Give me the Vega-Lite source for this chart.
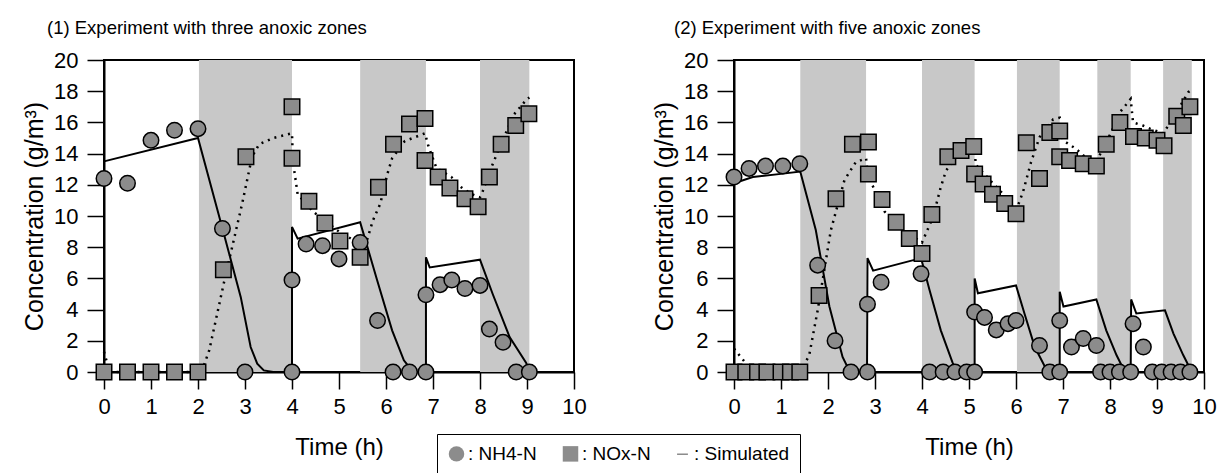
{
  "$schema": "https://vega.github.io/schema/vega-lite/v6.json",
  "padding": {"left": 21, "top": 17, "right": 5, "bottom": 0},
  "spacing": 160,
  "bounds": "flush",
  "datasets": {
    "zones": [
      {"p": 1, "a": 2.02, "b": 4.0},
      {"p": 1, "a": 5.45, "b": 6.85},
      {"p": 1, "a": 8.0, "b": 9.05},
      {"p": 2, "a": 1.41, "b": 2.81},
      {"p": 2, "a": 4.0, "b": 5.12},
      {"p": 2, "a": 6.02, "b": 6.93},
      {"p": 2, "a": 7.73, "b": 8.44},
      {"p": 2, "a": 9.13, "b": 9.74}
    ],
    "obs": [
      {"p": 1, "s": "NH4-N", "t": 0, "v": 12.4},
      {"p": 1, "s": "NH4-N", "t": 0.5, "v": 12.1},
      {"p": 1, "s": "NH4-N", "t": 1.0, "v": 14.85},
      {"p": 1, "s": "NH4-N", "t": 1.5, "v": 15.5},
      {"p": 1, "s": "NH4-N", "t": 2.0, "v": 15.6},
      {"p": 1, "s": "NH4-N", "t": 2.52, "v": 9.2},
      {"p": 1, "s": "NH4-N", "t": 3.0, "v": 0},
      {"p": 1, "s": "NH4-N", "t": 4.0, "v": 0},
      {"p": 1, "s": "NH4-N", "t": 4.0, "v": 5.9},
      {"p": 1, "s": "NH4-N", "t": 4.3, "v": 8.2},
      {"p": 1, "s": "NH4-N", "t": 4.65, "v": 8.1},
      {"p": 1, "s": "NH4-N", "t": 5.0, "v": 7.25},
      {"p": 1, "s": "NH4-N", "t": 5.45, "v": 8.3},
      {"p": 1, "s": "NH4-N", "t": 5.82, "v": 3.3},
      {"p": 1, "s": "NH4-N", "t": 6.15, "v": 0},
      {"p": 1, "s": "NH4-N", "t": 6.5, "v": 0},
      {"p": 1, "s": "NH4-N", "t": 6.85, "v": 0},
      {"p": 1, "s": "NH4-N", "t": 6.85, "v": 4.95},
      {"p": 1, "s": "NH4-N", "t": 7.15, "v": 5.6},
      {"p": 1, "s": "NH4-N", "t": 7.4, "v": 5.9},
      {"p": 1, "s": "NH4-N", "t": 7.68, "v": 5.35},
      {"p": 1, "s": "NH4-N", "t": 8.0, "v": 5.55},
      {"p": 1, "s": "NH4-N", "t": 8.2, "v": 2.75},
      {"p": 1, "s": "NH4-N", "t": 8.49, "v": 1.9},
      {"p": 1, "s": "NH4-N", "t": 8.77, "v": 0},
      {"p": 1, "s": "NH4-N", "t": 9.05, "v": 0},
      {"p": 1, "s": "NOx-N", "t": 0, "v": 0},
      {"p": 1, "s": "NOx-N", "t": 0.5, "v": 0},
      {"p": 1, "s": "NOx-N", "t": 1.0, "v": 0},
      {"p": 1, "s": "NOx-N", "t": 1.5, "v": 0},
      {"p": 1, "s": "NOx-N", "t": 2.0, "v": 0},
      {"p": 1, "s": "NOx-N", "t": 2.54, "v": 6.55},
      {"p": 1, "s": "NOx-N", "t": 3.02, "v": 13.8},
      {"p": 1, "s": "NOx-N", "t": 4.0, "v": 17.0},
      {"p": 1, "s": "NOx-N", "t": 4.0, "v": 13.7},
      {"p": 1, "s": "NOx-N", "t": 4.36, "v": 10.95},
      {"p": 1, "s": "NOx-N", "t": 4.7, "v": 9.55},
      {"p": 1, "s": "NOx-N", "t": 5.02, "v": 8.4},
      {"p": 1, "s": "NOx-N", "t": 5.45, "v": 7.35},
      {"p": 1, "s": "NOx-N", "t": 5.84, "v": 11.85},
      {"p": 1, "s": "NOx-N", "t": 6.16, "v": 14.6},
      {"p": 1, "s": "NOx-N", "t": 6.5, "v": 15.9},
      {"p": 1, "s": "NOx-N", "t": 6.83, "v": 16.25},
      {"p": 1, "s": "NOx-N", "t": 6.83, "v": 13.55},
      {"p": 1, "s": "NOx-N", "t": 7.11, "v": 12.5},
      {"p": 1, "s": "NOx-N", "t": 7.36, "v": 11.8},
      {"p": 1, "s": "NOx-N", "t": 7.68, "v": 11.1},
      {"p": 1, "s": "NOx-N", "t": 7.96, "v": 10.6},
      {"p": 1, "s": "NOx-N", "t": 8.2, "v": 12.5},
      {"p": 1, "s": "NOx-N", "t": 8.45, "v": 14.6},
      {"p": 1, "s": "NOx-N", "t": 8.76, "v": 15.8},
      {"p": 1, "s": "NOx-N", "t": 9.04, "v": 16.55},
      {"p": 2, "s": "NH4-N", "t": 0, "v": 12.5},
      {"p": 2, "s": "NH4-N", "t": 0.32, "v": 13.05},
      {"p": 2, "s": "NH4-N", "t": 0.67, "v": 13.2},
      {"p": 2, "s": "NH4-N", "t": 1.04, "v": 13.2},
      {"p": 2, "s": "NH4-N", "t": 1.4, "v": 13.35},
      {"p": 2, "s": "NH4-N", "t": 1.78, "v": 6.85},
      {"p": 2, "s": "NH4-N", "t": 2.15, "v": 2.0},
      {"p": 2, "s": "NH4-N", "t": 2.49, "v": 0},
      {"p": 2, "s": "NH4-N", "t": 2.84, "v": 0},
      {"p": 2, "s": "NH4-N", "t": 2.84, "v": 4.35},
      {"p": 2, "s": "NH4-N", "t": 3.13, "v": 5.75},
      {"p": 2, "s": "NH4-N", "t": 3.98, "v": 6.3},
      {"p": 2, "s": "NH4-N", "t": 4.16, "v": 0},
      {"p": 2, "s": "NH4-N", "t": 4.45, "v": 0},
      {"p": 2, "s": "NH4-N", "t": 4.7, "v": 0},
      {"p": 2, "s": "NH4-N", "t": 4.95, "v": 0},
      {"p": 2, "s": "NH4-N", "t": 5.12, "v": 0},
      {"p": 2, "s": "NH4-N", "t": 5.12, "v": 3.85},
      {"p": 2, "s": "NH4-N", "t": 5.33, "v": 3.5},
      {"p": 2, "s": "NH4-N", "t": 5.58, "v": 2.7},
      {"p": 2, "s": "NH4-N", "t": 5.83, "v": 3.1},
      {"p": 2, "s": "NH4-N", "t": 6.0, "v": 3.3},
      {"p": 2, "s": "NH4-N", "t": 6.5, "v": 1.7},
      {"p": 2, "s": "NH4-N", "t": 6.72, "v": 0},
      {"p": 2, "s": "NH4-N", "t": 6.93, "v": 0},
      {"p": 2, "s": "NH4-N", "t": 6.93, "v": 3.3},
      {"p": 2, "s": "NH4-N", "t": 7.18, "v": 1.6},
      {"p": 2, "s": "NH4-N", "t": 7.43, "v": 2.15},
      {"p": 2, "s": "NH4-N", "t": 7.71, "v": 1.7},
      {"p": 2, "s": "NH4-N", "t": 7.8, "v": 0},
      {"p": 2, "s": "NH4-N", "t": 8.0, "v": 0},
      {"p": 2, "s": "NH4-N", "t": 8.2, "v": 0},
      {"p": 2, "s": "NH4-N", "t": 8.44, "v": 0},
      {"p": 2, "s": "NH4-N", "t": 8.49, "v": 3.1},
      {"p": 2, "s": "NH4-N", "t": 8.71, "v": 1.6},
      {"p": 2, "s": "NH4-N", "t": 8.9, "v": 0},
      {"p": 2, "s": "NH4-N", "t": 9.1, "v": 0},
      {"p": 2, "s": "NH4-N", "t": 9.3, "v": 0},
      {"p": 2, "s": "NH4-N", "t": 9.5, "v": 0},
      {"p": 2, "s": "NH4-N", "t": 9.7, "v": 0},
      {"p": 2, "s": "NOx-N", "t": 0, "v": 0},
      {"p": 2, "s": "NOx-N", "t": 0.25, "v": 0},
      {"p": 2, "s": "NOx-N", "t": 0.5, "v": 0},
      {"p": 2, "s": "NOx-N", "t": 0.7, "v": 0},
      {"p": 2, "s": "NOx-N", "t": 1.0, "v": 0},
      {"p": 2, "s": "NOx-N", "t": 1.2, "v": 0},
      {"p": 2, "s": "NOx-N", "t": 1.4, "v": 0},
      {"p": 2, "s": "NOx-N", "t": 1.81, "v": 4.9},
      {"p": 2, "s": "NOx-N", "t": 2.17, "v": 11.1},
      {"p": 2, "s": "NOx-N", "t": 2.52, "v": 14.6},
      {"p": 2, "s": "NOx-N", "t": 2.86, "v": 14.75},
      {"p": 2, "s": "NOx-N", "t": 2.86, "v": 12.7},
      {"p": 2, "s": "NOx-N", "t": 3.15, "v": 11.05},
      {"p": 2, "s": "NOx-N", "t": 3.45, "v": 9.6},
      {"p": 2, "s": "NOx-N", "t": 3.73, "v": 8.55},
      {"p": 2, "s": "NOx-N", "t": 4.0, "v": 7.6},
      {"p": 2, "s": "NOx-N", "t": 4.21, "v": 10.1},
      {"p": 2, "s": "NOx-N", "t": 4.55, "v": 13.8},
      {"p": 2, "s": "NOx-N", "t": 4.83, "v": 14.2},
      {"p": 2, "s": "NOx-N", "t": 5.1, "v": 14.45},
      {"p": 2, "s": "NOx-N", "t": 5.12, "v": 12.7},
      {"p": 2, "s": "NOx-N", "t": 5.3, "v": 12.05},
      {"p": 2, "s": "NOx-N", "t": 5.5, "v": 11.4},
      {"p": 2, "s": "NOx-N", "t": 5.76, "v": 10.8},
      {"p": 2, "s": "NOx-N", "t": 6.0, "v": 10.15},
      {"p": 2, "s": "NOx-N", "t": 6.22, "v": 14.7},
      {"p": 2, "s": "NOx-N", "t": 6.5, "v": 12.4},
      {"p": 2, "s": "NOx-N", "t": 6.72, "v": 15.35},
      {"p": 2, "s": "NOx-N", "t": 6.93, "v": 15.45},
      {"p": 2, "s": "NOx-N", "t": 6.93, "v": 13.8},
      {"p": 2, "s": "NOx-N", "t": 7.14, "v": 13.55},
      {"p": 2, "s": "NOx-N", "t": 7.43, "v": 13.35},
      {"p": 2, "s": "NOx-N", "t": 7.71, "v": 13.2},
      {"p": 2, "s": "NOx-N", "t": 7.92, "v": 14.6},
      {"p": 2, "s": "NOx-N", "t": 8.21, "v": 16.0},
      {"p": 2, "s": "NOx-N", "t": 8.5, "v": 15.1},
      {"p": 2, "s": "NOx-N", "t": 8.75, "v": 15.0},
      {"p": 2, "s": "NOx-N", "t": 9.0, "v": 14.85},
      {"p": 2, "s": "NOx-N", "t": 9.15, "v": 14.5},
      {"p": 2, "s": "NOx-N", "t": 9.42, "v": 16.4},
      {"p": 2, "s": "NOx-N", "t": 9.56, "v": 15.8},
      {"p": 2, "s": "NOx-N", "t": 9.7, "v": 17.0}
    ],
    "sim": [
      {"p": 1, "s": "NH4", "i": 1, "t": 0, "v": 13.5},
      {"p": 1, "s": "NH4", "i": 2, "t": 2.0, "v": 15.0},
      {"p": 1, "s": "NH4", "i": 3, "t": 2.52, "v": 9.2},
      {"p": 1, "s": "NH4", "i": 4, "t": 2.91, "v": 4.8},
      {"p": 1, "s": "NH4", "i": 5, "t": 3.12, "v": 1.6},
      {"p": 1, "s": "NH4", "i": 6, "t": 3.26, "v": 0.54},
      {"p": 1, "s": "NH4", "i": 7, "t": 3.4, "v": 0.1},
      {"p": 1, "s": "NH4", "i": 8, "t": 3.6, "v": 0},
      {"p": 1, "s": "NH4", "i": 9, "t": 4.0, "v": 0},
      {"p": 1, "s": "NH4", "i": 10, "t": 4.0, "v": 9.3},
      {"p": 1, "s": "NH4", "i": 11, "t": 4.12, "v": 8.55},
      {"p": 1, "s": "NH4", "i": 12, "t": 5.45, "v": 9.6},
      {"p": 1, "s": "NH4", "i": 13, "t": 5.81, "v": 5.9},
      {"p": 1, "s": "NH4", "i": 14, "t": 6.13, "v": 2.67},
      {"p": 1, "s": "NH4", "i": 15, "t": 6.38, "v": 0.75},
      {"p": 1, "s": "NH4", "i": 16, "t": 6.55, "v": 0.1},
      {"p": 1, "s": "NH4", "i": 17, "t": 6.6, "v": 0},
      {"p": 1, "s": "NH4", "i": 18, "t": 6.85, "v": 0},
      {"p": 1, "s": "NH4", "i": 19, "t": 6.85, "v": 7.35},
      {"p": 1, "s": "NH4", "i": 20, "t": 6.93, "v": 6.7},
      {"p": 1, "s": "NH4", "i": 21, "t": 8.0, "v": 7.2},
      {"p": 1, "s": "NH4", "i": 22, "t": 8.27, "v": 5.0},
      {"p": 1, "s": "NH4", "i": 23, "t": 8.63, "v": 2.24},
      {"p": 1, "s": "NH4", "i": 24, "t": 8.98, "v": 0.6},
      {"p": 1, "s": "NH4", "i": 25, "t": 9.05, "v": 0.1},
      {"p": 1, "s": "NOx", "i": 1, "t": 0, "v": 1.3},
      {"p": 1, "s": "NOx", "i": 2, "t": 0.12, "v": 0},
      {"p": 1, "s": "NOx", "i": 3, "t": 2.0, "v": 0},
      {"p": 1, "s": "NOx", "i": 4, "t": 2.1, "v": 0.2},
      {"p": 1, "s": "NOx", "i": 5, "t": 2.24, "v": 1.4},
      {"p": 1, "s": "NOx", "i": 6, "t": 2.55, "v": 5.7},
      {"p": 1, "s": "NOx", "i": 7, "t": 2.94, "v": 10.8},
      {"p": 1, "s": "NOx", "i": 8, "t": 3.15, "v": 13.8},
      {"p": 1, "s": "NOx", "i": 9, "t": 3.3, "v": 14.6},
      {"p": 1, "s": "NOx", "i": 10, "t": 3.6, "v": 15.0},
      {"p": 1, "s": "NOx", "i": 11, "t": 4.0, "v": 15.3},
      {"p": 1, "s": "NOx", "i": 12, "t": 4.02, "v": 13.5},
      {"p": 1, "s": "NOx", "i": 13, "t": 4.12, "v": 11.4},
      {"p": 1, "s": "NOx", "i": 14, "t": 4.46, "v": 10.25},
      {"p": 1, "s": "NOx", "i": 15, "t": 5.0, "v": 9.0},
      {"p": 1, "s": "NOx", "i": 16, "t": 5.45, "v": 8.2},
      {"p": 1, "s": "NOx", "i": 17, "t": 5.6, "v": 8.5},
      {"p": 1, "s": "NOx", "i": 18, "t": 5.72, "v": 9.7},
      {"p": 1, "s": "NOx", "i": 19, "t": 5.88, "v": 10.8},
      {"p": 1, "s": "NOx", "i": 20, "t": 6.03, "v": 12.7},
      {"p": 1, "s": "NOx", "i": 21, "t": 6.13, "v": 13.7},
      {"p": 1, "s": "NOx", "i": 22, "t": 6.4, "v": 14.8},
      {"p": 1, "s": "NOx", "i": 23, "t": 6.83, "v": 15.3},
      {"p": 1, "s": "NOx", "i": 24, "t": 6.9, "v": 14.5},
      {"p": 1, "s": "NOx", "i": 25, "t": 7.07, "v": 13.1},
      {"p": 1, "s": "NOx", "i": 26, "t": 7.39, "v": 12.5},
      {"p": 1, "s": "NOx", "i": 27, "t": 7.57, "v": 11.9},
      {"p": 1, "s": "NOx", "i": 28, "t": 7.82, "v": 11.4},
      {"p": 1, "s": "NOx", "i": 29, "t": 8.0, "v": 11.2},
      {"p": 1, "s": "NOx", "i": 30, "t": 8.06, "v": 11.6},
      {"p": 1, "s": "NOx", "i": 31, "t": 8.24, "v": 13.1},
      {"p": 1, "s": "NOx", "i": 32, "t": 8.39, "v": 14.2},
      {"p": 1, "s": "NOx", "i": 33, "t": 8.72, "v": 16.5},
      {"p": 1, "s": "NOx", "i": 34, "t": 9.0, "v": 17.5},
      {"p": 1, "s": "NOx", "i": 35, "t": 9.05, "v": 17.6},
      {"p": 2, "s": "NH4", "i": 1, "t": 0, "v": 12.1},
      {"p": 2, "s": "NH4", "i": 2, "t": 0.4, "v": 12.5},
      {"p": 2, "s": "NH4", "i": 3, "t": 1.0, "v": 12.7},
      {"p": 2, "s": "NH4", "i": 4, "t": 1.41, "v": 12.85},
      {"p": 2, "s": "NH4", "i": 5, "t": 1.74, "v": 9.1},
      {"p": 2, "s": "NH4", "i": 6, "t": 2.03, "v": 4.2},
      {"p": 2, "s": "NH4", "i": 7, "t": 2.31, "v": 0.96},
      {"p": 2, "s": "NH4", "i": 8, "t": 2.45, "v": 0.1},
      {"p": 2, "s": "NH4", "i": 9, "t": 2.5, "v": 0},
      {"p": 2, "s": "NH4", "i": 10, "t": 2.83, "v": 0},
      {"p": 2, "s": "NH4", "i": 11, "t": 2.84, "v": 7.3},
      {"p": 2, "s": "NH4", "i": 12, "t": 2.96, "v": 6.5},
      {"p": 2, "s": "NH4", "i": 13, "t": 3.98, "v": 7.3},
      {"p": 2, "s": "NH4", "i": 14, "t": 4.16, "v": 5.25},
      {"p": 2, "s": "NH4", "i": 15, "t": 4.4, "v": 2.67},
      {"p": 2, "s": "NH4", "i": 16, "t": 4.65, "v": 0.6},
      {"p": 2, "s": "NH4", "i": 17, "t": 4.75, "v": 0},
      {"p": 2, "s": "NH4", "i": 18, "t": 5.12, "v": 0},
      {"p": 2, "s": "NH4", "i": 19, "t": 5.12, "v": 6.0},
      {"p": 2, "s": "NH4", "i": 20, "t": 5.19, "v": 5.05},
      {"p": 2, "s": "NH4", "i": 21, "t": 6.0, "v": 5.55},
      {"p": 2, "s": "NH4", "i": 22, "t": 6.18, "v": 3.75},
      {"p": 2, "s": "NH4", "i": 23, "t": 6.4, "v": 1.6},
      {"p": 2, "s": "NH4", "i": 24, "t": 6.64, "v": 0.2},
      {"p": 2, "s": "NH4", "i": 25, "t": 6.7, "v": 0},
      {"p": 2, "s": "NH4", "i": 26, "t": 6.93, "v": 0},
      {"p": 2, "s": "NH4", "i": 27, "t": 6.93, "v": 5.15},
      {"p": 2, "s": "NH4", "i": 28, "t": 7.01, "v": 4.2},
      {"p": 2, "s": "NH4", "i": 29, "t": 7.71, "v": 4.65},
      {"p": 2, "s": "NH4", "i": 30, "t": 7.92, "v": 2.67},
      {"p": 2, "s": "NH4", "i": 31, "t": 8.14, "v": 1.07},
      {"p": 2, "s": "NH4", "i": 32, "t": 8.3, "v": 0.1},
      {"p": 2, "s": "NH4", "i": 33, "t": 8.35, "v": 0},
      {"p": 2, "s": "NH4", "i": 34, "t": 8.44, "v": 0},
      {"p": 2, "s": "NH4", "i": 35, "t": 8.45, "v": 4.65},
      {"p": 2, "s": "NH4", "i": 36, "t": 8.56, "v": 3.75},
      {"p": 2, "s": "NH4", "i": 37, "t": 9.17, "v": 3.95},
      {"p": 2, "s": "NH4", "i": 38, "t": 9.35, "v": 2.46},
      {"p": 2, "s": "NH4", "i": 39, "t": 9.56, "v": 1.07},
      {"p": 2, "s": "NH4", "i": 40, "t": 9.74, "v": 0},
      {"p": 2, "s": "NOx", "i": 1, "t": 0, "v": 1.5},
      {"p": 2, "s": "NOx", "i": 2, "t": 0.2, "v": 0.75},
      {"p": 2, "s": "NOx", "i": 3, "t": 0.4, "v": 0},
      {"p": 2, "s": "NOx", "i": 4, "t": 1.41, "v": 0},
      {"p": 2, "s": "NOx", "i": 5, "t": 1.6, "v": 1.07},
      {"p": 2, "s": "NOx", "i": 6, "t": 1.78, "v": 3.95},
      {"p": 2, "s": "NOx", "i": 7, "t": 2.06, "v": 9.08},
      {"p": 2, "s": "NOx", "i": 8, "t": 2.35, "v": 12.3},
      {"p": 2, "s": "NOx", "i": 9, "t": 2.59, "v": 13.45},
      {"p": 2, "s": "NOx", "i": 10, "t": 2.81, "v": 13.7},
      {"p": 2, "s": "NOx", "i": 11, "t": 2.85, "v": 12.6},
      {"p": 2, "s": "NOx", "i": 12, "t": 3.2, "v": 10.3},
      {"p": 2, "s": "NOx", "i": 13, "t": 3.6, "v": 9.1},
      {"p": 2, "s": "NOx", "i": 14, "t": 4.0, "v": 8.3},
      {"p": 2, "s": "NOx", "i": 15, "t": 4.23, "v": 9.9},
      {"p": 2, "s": "NOx", "i": 16, "t": 4.4, "v": 11.85},
      {"p": 2, "s": "NOx", "i": 17, "t": 4.51, "v": 12.9},
      {"p": 2, "s": "NOx", "i": 18, "t": 5.01, "v": 14.95},
      {"p": 2, "s": "NOx", "i": 19, "t": 5.12, "v": 14.85},
      {"p": 2, "s": "NOx", "i": 20, "t": 5.14, "v": 13.3},
      {"p": 2, "s": "NOx", "i": 21, "t": 5.6, "v": 11.8},
      {"p": 2, "s": "NOx", "i": 22, "t": 6.02, "v": 10.5},
      {"p": 2, "s": "NOx", "i": 23, "t": 6.15, "v": 11.55},
      {"p": 2, "s": "NOx", "i": 24, "t": 6.32, "v": 13.45},
      {"p": 2, "s": "NOx", "i": 25, "t": 6.5, "v": 15.05},
      {"p": 2, "s": "NOx", "i": 26, "t": 6.79, "v": 16.2},
      {"p": 2, "s": "NOx", "i": 27, "t": 6.93, "v": 16.3},
      {"p": 2, "s": "NOx", "i": 28, "t": 7.0, "v": 14.85},
      {"p": 2, "s": "NOx", "i": 29, "t": 7.28, "v": 14.3},
      {"p": 2, "s": "NOx", "i": 30, "t": 7.5, "v": 13.7},
      {"p": 2, "s": "NOx", "i": 31, "t": 7.73, "v": 13.6},
      {"p": 2, "s": "NOx", "i": 32, "t": 8.03, "v": 15.4},
      {"p": 2, "s": "NOx", "i": 33, "t": 8.21, "v": 16.65},
      {"p": 2, "s": "NOx", "i": 34, "t": 8.44, "v": 17.5},
      {"p": 2, "s": "NOx", "i": 35, "t": 8.49, "v": 16.0},
      {"p": 2, "s": "NOx", "i": 36, "t": 8.7, "v": 15.8},
      {"p": 2, "s": "NOx", "i": 37, "t": 8.85, "v": 15.6},
      {"p": 2, "s": "NOx", "i": 38, "t": 9.13, "v": 15.3},
      {"p": 2, "s": "NOx", "i": 39, "t": 9.31, "v": 16.1},
      {"p": 2, "s": "NOx", "i": 40, "t": 9.67, "v": 17.95},
      {"p": 2, "s": "NOx", "i": 41, "t": 9.74, "v": 18.1}
    ]
  },
  "hconcat": [
    {
      "width": 470,
      "height": 312,
      "title": {"text": "(1) Experiment with three anoxic zones", "dx": -57},
      "layer": [
        {
          "data": {"name": "zones"},
          "transform": [{"filter": "datum.p == 1"}],
          "mark": {"type": "rect", "fill": "#c8c8c8"},
          "encoding": {
            "x": {"field": "a", "type": "quantitative", "scale": {"domain": [0, 10], "nice": false, "zero": false},
                  "axis": {"title": "Time (h)", "values": [0,1,2,3,4,5,6,7,8,9,10], "tickCount": 11, "labelFlush": false, "labelOverlap": false, "labelBound": false}},
            "x2": {"field": "b"}
          }
        },
        {
          "data": {"name": "sim"},
          "transform": [{"filter": "datum.p == 1 && datum.s == 'NH4'"}],
          "mark": {"type": "line", "color": "black", "strokeWidth": 2},
          "encoding": {
            "x": {"field": "t", "type": "quantitative"},
            "y": {"field": "v", "type": "quantitative", "scale": {"domain": [0, 20], "nice": false},
                  "axis": {"title": "Concentration (g/m³)", "values": [0,2,4,6,8,10,12,14,16,18,20], "tickCount": 11, "labelOverlap": false, "labelBound": false, "labelFlush": false}},
            "order": {"field": "i", "type": "quantitative"}
          }
        },
        {
          "data": {"name": "sim"},
          "transform": [{"filter": "datum.p == 1 && datum.s == 'NOx'"}],
          "mark": {"type": "line", "color": "black", "strokeWidth": 2.5, "strokeDash": [2, 5]},
          "encoding": {
            "x": {"field": "t", "type": "quantitative"},
            "y": {"field": "v", "type": "quantitative"},
            "order": {"field": "i", "type": "quantitative"}
          }
        },
        {
          "data": {"name": "obs"},
          "transform": [{"filter": "datum.p == 1"}],
          "mark": {"type": "point", "filled": true, "fill": "#8c8c8c", "stroke": "black", "strokeWidth": 1.5, "opacity": 1, "size": 240},
          "encoding": {
            "x": {"field": "t", "type": "quantitative"},
            "y": {"field": "v", "type": "quantitative"},
            "shape": {"field": "s", "type": "nominal",
                      "scale": {"domain": ["NH4-N", "NOx-N", "Simulated"], "range": ["circle", "square", "M-0.7,-0.1H0.7V0.1H-0.7Z"]},
                      "legend": {"title": null, "orient": "none", "legendX": 333, "legendY": 374, "direction": "horizontal",
                                 "labelExpr": "': ' + datum.label", "symbolFillColor": "#8c8c8c", "symbolStrokeColor": "black", "symbolStrokeWidth": 1.5,
                                 "strokeColor": "black",
                                 "encode": {"legend": {"strokeWidth": {"value": 2}, "stroke": {"value": "black"}},
                                            "symbols": {"stroke": {"value": "black"}, "strokeWidth": {"value": 1.5},
                                                        "fill": [{"test": "datum.label === 'Simulated'", "value": "black"}, {"value": "#8c8c8c"}]}}}}
          }
        }
      ]
    },
    {
      "width": 470,
      "height": 312,
      "title": {"text": "(2) Experiment with five anoxic zones", "dx": -60},
      "layer": [
        {
          "data": {"name": "zones"},
          "transform": [{"filter": "datum.p == 2"}],
          "mark": {"type": "rect", "fill": "#c8c8c8"},
          "encoding": {
            "x": {"field": "a", "type": "quantitative", "scale": {"domain": [0, 10], "nice": false, "zero": false},
                  "axis": {"title": "Time (h)", "values": [0,1,2,3,4,5,6,7,8,9,10], "tickCount": 11, "labelFlush": false, "labelOverlap": false, "labelBound": false}},
            "x2": {"field": "b"}
          }
        },
        {
          "data": {"name": "sim"},
          "transform": [{"filter": "datum.p == 2 && datum.s == 'NH4'"}],
          "mark": {"type": "line", "color": "black", "strokeWidth": 2},
          "encoding": {
            "x": {"field": "t", "type": "quantitative"},
            "y": {"field": "v", "type": "quantitative", "scale": {"domain": [0, 20], "nice": false},
                  "axis": {"title": "Concentration (g/m³)", "values": [0,2,4,6,8,10,12,14,16,18,20], "tickCount": 11, "labelOverlap": false, "labelBound": false, "labelFlush": false}},
            "order": {"field": "i", "type": "quantitative"}
          }
        },
        {
          "data": {"name": "sim"},
          "transform": [{"filter": "datum.p == 2 && datum.s == 'NOx'"}],
          "mark": {"type": "line", "color": "black", "strokeWidth": 2.5, "strokeDash": [2, 5]},
          "encoding": {
            "x": {"field": "t", "type": "quantitative"},
            "y": {"field": "v", "type": "quantitative"},
            "order": {"field": "i", "type": "quantitative"}
          }
        },
        {
          "data": {"name": "obs"},
          "transform": [{"filter": "datum.p == 2"}],
          "mark": {"type": "point", "filled": true, "fill": "#8c8c8c", "stroke": "black", "strokeWidth": 1.5, "opacity": 1, "size": 240},
          "encoding": {
            "x": {"field": "t", "type": "quantitative"},
            "y": {"field": "v", "type": "quantitative"},
            "shape": {"field": "s", "type": "nominal",
                      "scale": {"domain": ["NH4-N", "NOx-N", "Simulated"], "range": ["circle", "square", "M-0.7,-0.1H0.7V0.1H-0.7Z"]},
                      "legend": {"title": null, "orient": "none", "legendX": 333, "legendY": 374, "direction": "horizontal",
                                 "labelExpr": "': ' + datum.label", "symbolFillColor": "#8c8c8c", "symbolStrokeColor": "black", "symbolStrokeWidth": 1.5,
                                 "strokeColor": "black",
                                 "encode": {"legend": {"strokeWidth": {"value": 2}, "stroke": {"value": "black"}},
                                            "symbols": {"stroke": {"value": "black"}, "strokeWidth": {"value": 1.5},
                                                        "fill": [{"test": "datum.label === 'Simulated'", "value": "black"}, {"value": "#8c8c8c"}]}}}}
          }
        }
      ]
    }
  ],
  "config": {
    "font": "Liberation Sans",
    "view": {"stroke": "black", "strokeWidth": 2},
    "axis": {"grid": false, "domainColor": "black", "domainWidth": 2, "tickColor": "black", "tickWidth": 1.5, "tickSize": 17,
             "labelFont": "Liberation Sans", "labelFontSize": 22, "labelColor": "black", "labelPadding": 6, "labelOverlap": false,
             "titleFont": "Liberation Sans", "titleFontSize": 24, "titleFontWeight": "normal", "titleColor": "black"},
    "axisX": {"titlePadding": 18, "labelPadding": 7},
    "axisY": {"titlePadding": 6, "labelPadding": 9, "titleFontSize": 25, "labelOverlap": false},
    "title": {"font": "Liberation Sans", "fontSize": 18.5, "fontWeight": "normal", "color": "black", "anchor": "start", "frame": "group", "baseline": "alphabetic", "offset": 12},
    "legend": {"labelFont": "Liberation Sans", "labelFontSize": 19, "labelColor": "black", "symbolSize": 240, "symbolStrokeWidth": 1.5,
               "symbolStrokeColor": "black", "symbolFillColor": "#8c8c8c",
               "columnPadding": 22, "labelOffset": 2, "padding": 10, "strokeColor": "black"}
  }
}
